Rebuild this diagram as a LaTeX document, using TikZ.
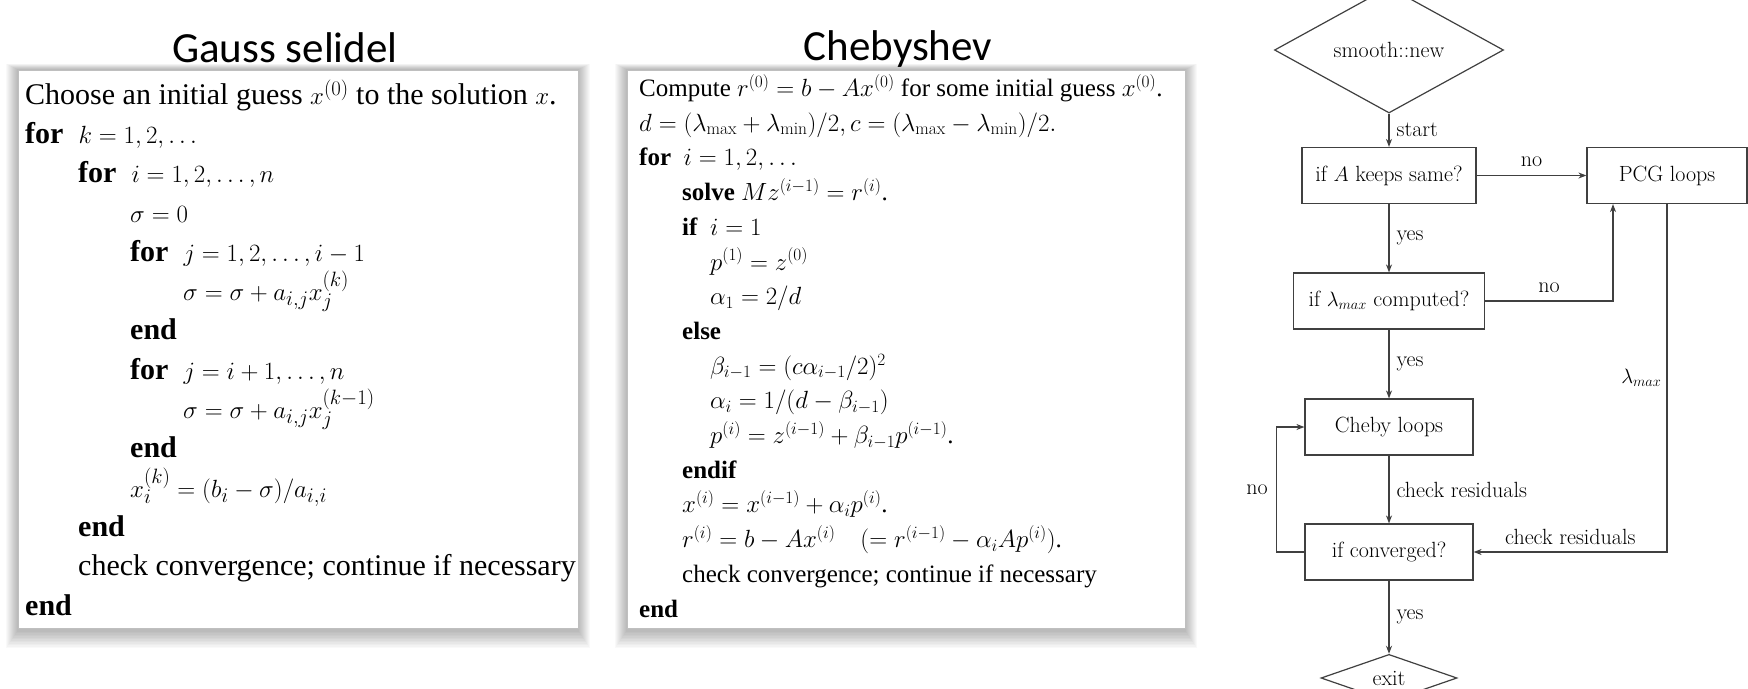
\documentclass[tikz,border=0pt]{standalone}
\usepackage{fontspec}
\newfontfamily\timesfont{Liberation Serif}
\newfontfamily\calibrifont{Carlito}
\usetikzlibrary{arrows.meta,positioning,shapes.geometric,backgrounds}
\tikzset{
  algbox/.style={draw=black!25,line width=0.6pt,fill=white,inner sep=0pt},
  algtext/.style={anchor=base west,align=left,inner sep=0pt},
  gstext/.style={algtext,font=\timesfont\fontsize{30}{39.3}\selectfont},
  cbtext/.style={algtext,font=\timesfont\fontsize{25}{34.7}\selectfont},
  paneltitle/.style={anchor=base,inner sep=0pt,font=\calibrifont\fontsize{43}{50}\selectfont},
  fbox/.style={draw=black!75,line width=1.2pt,inner sep=0pt,minimum height=56pt,font=\fontsize{22}{26}\selectfont},
  fdiamond/.style={diamond,draw=black!75,line width=1.2pt,inner sep=0pt,font=\fontsize{22}{26}\selectfont},
  flow/.style={draw=black!75,line width=1.2pt,-{Stealth[length=8pt,width=6pt]}},
  flabel/.style={inner sep=0pt,font=\fontsize{22}{26}\selectfont}
}

\begin{document}
\begin{tikzpicture}[x=1pt,y=-1pt]
        \useasboundingbox (0,0) rectangle (1748,688);
        % the two algorithm panels (text nodes sit on their last baseline)
        \node[algbox,minimum width=560pt,minimum height=558pt] (gsbox) at (298,349) {};
        \node[algbox,minimum width=558pt,minimum height=558pt] (cbbox) at (906,349) {};
        \node[paneltitle] (gstitle) at (285,62) {Gauss selidel};
        \node[paneltitle] (cbtitle) at (898,60) {Chebyshev};
        \node[gstext] (gsalg) at (25,615) {Choose an initial guess $x^{(0)}$ to the solution $x$.\\
          \textbf{for}\ \ $k=1,2,\ldots$\\
          \hspace*{53pt}\textbf{for}\ \ $i=1,2,\ldots,n$\\
          \hspace*{105pt}$\sigma=0$\\
          \hspace*{105pt}\textbf{for}\ \ $j=1,2,\ldots,i-1$\\
          \hspace*{158pt}$\sigma=\sigma+a_{i,j}x_j^{(k)}$\\
          \hspace*{105pt}\textbf{end}\\
          \hspace*{105pt}\textbf{for}\ \ $j=i+1,\ldots,n$\\
          \hspace*{158pt}$\sigma=\sigma+a_{i,j}x_j^{(k-1)}$\\
          \hspace*{105pt}\textbf{end}\\
          \hspace*{105pt}$x_i^{(k)}=(b_i-\sigma)/a_{i,i}$\\
          \hspace*{53pt}\textbf{end}\\
          \hspace*{53pt}check convergence; continue if necessary\\
          \textbf{end}};
        \node[cbtext] (cbalg) at (639,617) {Compute $r^{(0)}=b-Ax^{(0)}$ for some initial guess $x^{(0)}$.\\
          $d=(\lambda_{\max}+\lambda_{\min})/2,c=(\lambda_{\max}-\lambda_{\min})/2.$\\
          \textbf{for}\ \ $i=1,2,\ldots$\\
          \hspace*{43pt}\textbf{solve} $Mz^{(i-1)}=r^{(i)}$.\\
          \hspace*{43pt}\textbf{if}\ \ $i=1$\\
          \hspace*{71pt}$p^{(1)}=z^{(0)}$\\
          \hspace*{71pt}$\alpha_1=2/d$\\
          \hspace*{43pt}\textbf{else}\\
          \hspace*{71pt}$\beta_{i-1}=(c\alpha_{i-1}/2)^2$\\
          \hspace*{71pt}$\alpha_i=1/(d-\beta_{i-1})$\\
          \hspace*{71pt}$p^{(i)}=z^{(i-1)}+\beta_{i-1}p^{(i-1)}$.\\
          \hspace*{43pt}\textbf{endif}\\
          \hspace*{43pt}$x^{(i)}=x^{(i-1)}+\alpha_ip^{(i)}$.\\
          \hspace*{43pt}$r^{(i)}=b-Ax^{(i)}\quad(=r^{(i-1)}-\alpha_iAp^{(i)})$.\\
          \hspace*{43pt}check convergence; continue if necessary\\
          \textbf{end}};
        \begin{scope}[on background layer]
          \fill[white] (0,0) rectangle (1748,688);
          \foreach \b in {gsbox,cbbox}
            \foreach \s in {1,...,12}
              \fill[black,opacity=0.022] ([shift={(-\s,-0.5*\s)}]\b.north west) rectangle ([shift={(\s,1.5*\s+2)}]\b.south east);
        \end{scope}
        % flow chart
        \node[fdiamond,minimum width=229pt,minimum height=75pt] (smooth) at (1389,50) {smooth::new};
        \node[fbox,minimum width=174pt] (boxa) at (1389,175.5) {if $A$ keeps same?};
        \node[fbox,minimum width=160pt] (pcg) at (1667,175.5) {PCG loops};
        \node[fbox,minimum width=191pt] (lam) at (1389,301) {if $\lambda_{max}$ computed?};
        \node[fbox,minimum width=168pt] (cheb) at (1389,427) {Cheby loops};
        \node[fbox,minimum width=168pt] (conv) at (1389,552) {if converged?};
        \node[fdiamond,minimum width=136pt,minimum height=46pt] (exit) at (1389,678) {exit};
        \draw[flow] (smooth) -- node[flabel,right=7pt] {start} (boxa);
        \draw[flow] (boxa) -- node[flabel,above=8pt] {no} (pcg);
        \draw[flow] (boxa) -- node[flabel,right=7pt] {yes} (lam);
        \draw[flow] (lam.east) -| node[flabel,pos=0.25,above=8pt] {no} ([xshift=-54pt]pcg.south);
        \draw[flow] (lam) -- node[flabel,right=7pt] {yes} (cheb);
        \draw[flow] (cheb) -- node[flabel,right=7pt] {check residuals} (conv);
        \draw[flow] (conv) -- node[flabel,right=7pt] {yes} (exit);
        \draw[flow] (conv.west) -- ++(-28,0) |- node[flabel,pos=0.25,left=8pt] {no} (cheb.west);
        \draw[flow] (pcg.south) |- node[flabel,pos=0.25,left=5pt] {$\lambda_{max}$}
          node[flabel,pos=0.75,above=7pt] {check residuals} (conv.east);
      \end{tikzpicture}
\end{document}
